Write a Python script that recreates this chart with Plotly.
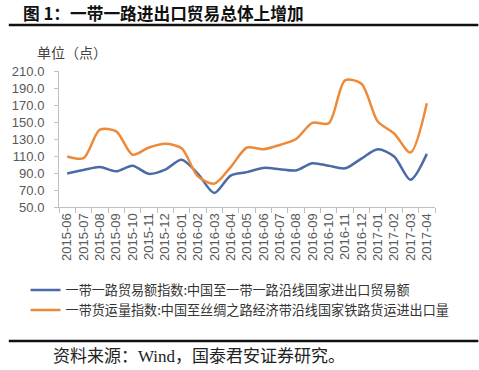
import plotly.graph_objects as go

months = ["2015-06","2015-07","2015-08","2015-09","2015-10","2015-11","2015-12",
          "2016-01","2016-02","2016-03","2016-04","2016-05","2016-06","2016-07",
          "2016-08","2016-09","2016-10","2016-11","2016-12","2017-01","2017-02",
          "2017-03","2017-04"]
trade_index = [89.5, 93.5, 97.0, 92.0, 98.5, 89.0, 94.0, 105.5, 89.0, 66.5, 87.0,
               91.0, 96.0, 94.5, 93.0, 101.5, 98.5, 95.5, 107.0, 118.0, 109.5,
               82.0, 112.5]
freight_index = [109.5, 107.5, 141.0, 139.0, 111.5, 120.0, 124.5, 119.0, 86.0, 77.5,
                 97.0, 120.0, 118.0, 123.0, 130.0, 149.0, 148.5, 199.0, 195.0, 150.5,
                 136.5, 114.0, 172.0]
series_names = ["一带一路贸易额指数:中国至一带一路沿线国家进出口贸易额",
                "一带货运量指数:中国至丝绸之路经济带沿线国家铁路货运进出口量"]
y_ticks = [50, 70, 90, 110, 130, 150, 170, 190, 210]

W, H = 479, 370
L, R, T, B = 53, 435, 71, 207

def px(x):
    return (x - L) / (R - L)

def py(y):
    return (B - y) / (B - T)

fig = go.Figure()
fig.add_trace(go.Scatter(x=months, y=trade_index, name=series_names[0], mode="lines",
                         line=dict(color="#4a6aa8", width=2.5, shape="spline", smoothing=0.8)))
fig.add_trace(go.Scatter(x=months, y=freight_index, name=series_names[1], mode="lines",
                         line=dict(color="#ed8a3a", width=2.5, shape="spline", smoothing=0.8)))

tick_font = dict(family="Liberation Sans, Arial, sans-serif", size=13, color="#595959")
fig.update_layout(
    width=W, height=H, autosize=False,
    margin=dict(l=L, r=W - R, t=T, b=H - B, pad=0),
    paper_bgcolor="white", plot_bgcolor="white",
    showlegend=True,
    legend=dict(orientation="v", x=px(19), y=py(275), xanchor="left", yanchor="top",
                font=dict(family="Noto Sans CJK SC, sans-serif", size=13.1, color="#333333"),
                tracegroupgap=0, itemwidth=30, bgcolor="rgba(0,0,0,0)"),
    xaxis=dict(type="category", range=[-0.5, len(months) - 0.5], tickangle=-90,
               showline=True, linecolor="#bfbfbf", linewidth=1, ticks="outside",
               tickson="boundaries", ticklen=5, tickcolor="#bfbfbf", showgrid=False,
               tickfont=tick_font, zeroline=False),
    yaxis=dict(range=[50, 210], tickvals=y_ticks, tickformat=".1f",
               showline=True, linecolor="#bfbfbf", linewidth=1, ticks="outside",
               ticklen=4, tickcolor="#bfbfbf", showgrid=False, zeroline=False,
               ticklabelstandoff=7, tickfont=tick_font),
)

fig.add_annotation(text="<b>图 1：一带一路进出口贸易总体上增加</b>", xref="paper", yref="paper",
                   x=px(14), y=py(13), xanchor="left", yanchor="middle", showarrow=False,
                   font=dict(family="Noto Sans CJK SC, sans-serif", size=16.7, color="#111111"))
fig.add_annotation(text="单位（点）", xref="paper", yref="paper",
                   x=px(29), y=py(52), xanchor="left", yanchor="middle", showarrow=False,
                   font=dict(family="Noto Sans CJK SC, sans-serif", size=14, color="#444444"))
fig.add_annotation(text="资料来源：Wind，国泰君安证券研究。", xref="paper", yref="paper",
                   x=px(45), y=py(356), xanchor="left", yanchor="middle", showarrow=False,
                   font=dict(family="Liberation Serif, Noto Sans CJK SC, serif", size=17, color="#222222"))

fig.add_shape(type="line", xref="paper", yref="paper", x0=px(2), x1=px(479),
              y0=py(25), y1=py(25), line=dict(color="#111111", width=2.5))
fig.add_shape(type="line", xref="paper", yref="paper", x0=px(2), x1=px(479),
              y0=py(341), y1=py(341), line=dict(color="#111111", width=2.5))

fig.write_html("out.html", config={"displayModeBar": False},
               post_script="document.body.style.margin='0';document.body.style.overflow='hidden';")
